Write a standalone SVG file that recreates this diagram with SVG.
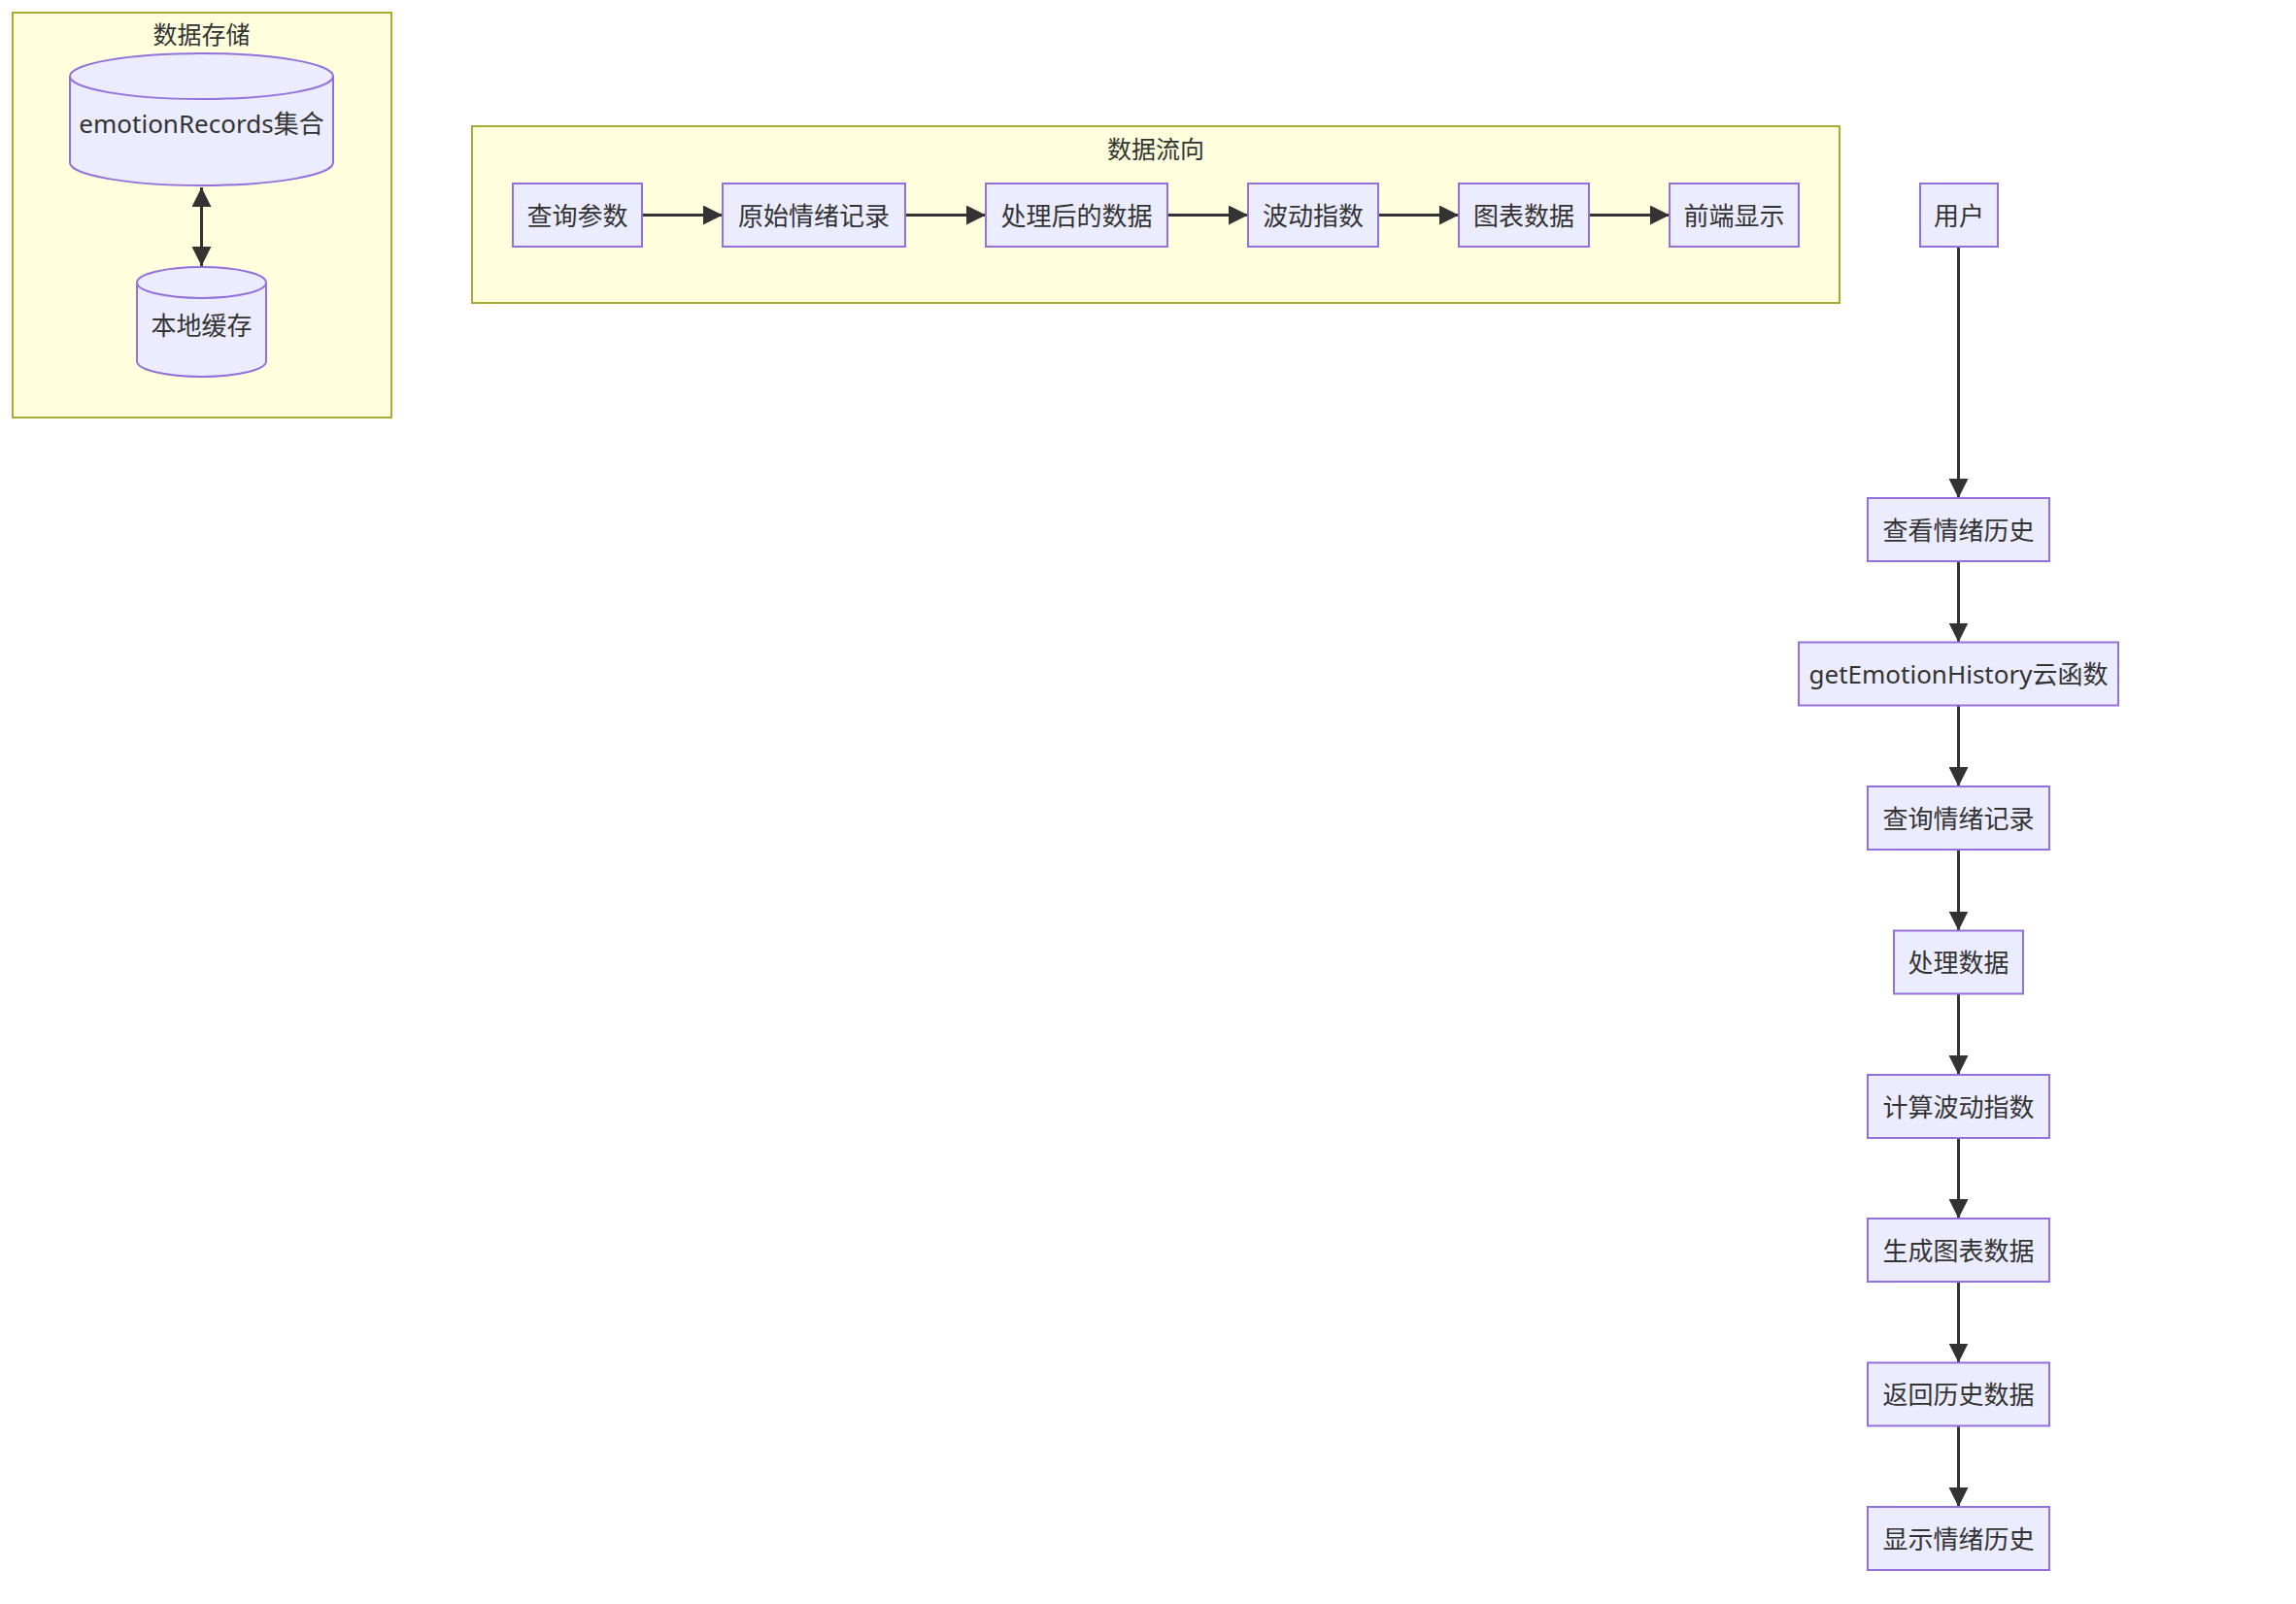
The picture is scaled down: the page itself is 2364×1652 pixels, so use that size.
<svg xmlns="http://www.w3.org/2000/svg" width="2364" height="1652" viewBox="0 0 2364 1652">
<style>
  .cluster { fill: #ffffde; stroke: #aaaa33; stroke-width: 2; }
  .node { fill: #ECECFF; stroke: #9370DB; stroke-width: 2; }
  .label { font-family: "Noto Sans", "Noto Sans CJK SC", sans-serif; font-size: 26px; fill: #333333; text-anchor: middle; dominant-baseline: central; }
  .title { font-family: "Noto Sans", "Noto Sans CJK SC", sans-serif; font-size: 25px; fill: #333333; text-anchor: middle; dominant-baseline: central; }
  .edge { stroke: #333333; stroke-width: 3; fill: none; }
</style>
<defs>
  <marker id="arrow" viewBox="0 0 20 20" refX="20" refY="10" markerWidth="20" markerHeight="20" markerUnits="userSpaceOnUse" orient="auto-start-reverse">
    <path d="M0,0 L20,10 L0,20 z" fill="#333333"/>
  </marker>
</defs>
<rect width="2364" height="1652" fill="#ffffff"/>

<g id="cluster-storage">
  <rect class="cluster" x="13" y="13" width="390" height="417"/>
  <text class="title" x="207.5" y="35">数据存储</text>
</g>
<g id="cluster-flow">
  <rect class="cluster" x="486" y="130" width="1408" height="182"/>
  <text class="title" x="1190" y="153">数据流向</text>
</g>

<g id="connectors">
  <line class="edge" x1="207.5" y1="193" x2="207.5" y2="274" marker-start="url(#arrow)" marker-end="url(#arrow)"/>
  <line class="edge" x1="661" y1="221.5" x2="744" y2="221.5" marker-end="url(#arrow)"/>
  <line class="edge" x1="932" y1="221.5" x2="1015" y2="221.5" marker-end="url(#arrow)"/>
  <line class="edge" x1="1202" y1="221.5" x2="1285" y2="221.5" marker-end="url(#arrow)"/>
  <line class="edge" x1="1419" y1="221.5" x2="1502" y2="221.5" marker-end="url(#arrow)"/>
  <line class="edge" x1="1636" y1="221.5" x2="1719" y2="221.5" marker-end="url(#arrow)"/>
  <line class="edge" x1="2016.5" y1="254" x2="2016.5" y2="513" marker-end="url(#arrow)"/>
  <line class="edge" x1="2016.5" y1="578" x2="2016.5" y2="661.5" marker-end="url(#arrow)"/>
  <line class="edge" x1="2016.5" y1="726.5" x2="2016.5" y2="810" marker-end="url(#arrow)"/>
  <line class="edge" x1="2016.5" y1="875" x2="2016.5" y2="958.5" marker-end="url(#arrow)"/>
  <line class="edge" x1="2016.5" y1="1023.5" x2="2016.5" y2="1107" marker-end="url(#arrow)"/>
  <line class="edge" x1="2016.5" y1="1172" x2="2016.5" y2="1255" marker-end="url(#arrow)"/>
  <line class="edge" x1="2016.5" y1="1320" x2="2016.5" y2="1403.5" marker-end="url(#arrow)"/>
  <line class="edge" x1="2016.5" y1="1468.5" x2="2016.5" y2="1552" marker-end="url(#arrow)"/>
</g>

<g id="node-emotionRecords">
  <path class="node" d="M72,78.5 A135.5,23.5 0 0,0 343,78.5 A135.5,23.5 0 0,0 72,78.5 L72,167.5 A135.5,23.5 0 0,0 343,167.5 L343,78.5"/>
  <text class="label" x="207.5" y="127">emotionRecords集合</text>
</g>
<g id="node-localCache">
  <path class="node" d="M141,291 A66.5,16 0 0,0 274,291 A66.5,16 0 0,0 141,291 L141,372 A66.5,16 0 0,0 274,372 L274,291"/>
  <text class="label" x="207.5" y="335">本地缓存</text>
</g>

<g id="node-queryParams">
  <rect class="node" x="528" y="189" width="133" height="65"/>
  <text class="label" x="594.5" y="221.5">查询参数</text>
</g>
<g id="node-rawRecords">
  <rect class="node" x="744" y="189" width="188" height="65"/>
  <text class="label" x="838" y="221.5">原始情绪记录</text>
</g>
<g id="node-processed">
  <rect class="node" x="1015" y="189" width="187" height="65"/>
  <text class="label" x="1108.5" y="221.5">处理后的数据</text>
</g>
<g id="node-volatility">
  <rect class="node" x="1285" y="189" width="134" height="65"/>
  <text class="label" x="1352" y="221.5">波动指数</text>
</g>
<g id="node-chartData">
  <rect class="node" x="1502" y="189" width="134" height="65"/>
  <text class="label" x="1569" y="221.5">图表数据</text>
</g>
<g id="node-frontend">
  <rect class="node" x="1719" y="189" width="133" height="65"/>
  <text class="label" x="1785.5" y="221.5">前端显示</text>
</g>

<g id="node-user">
  <rect class="node" x="1977" y="189" width="80" height="65"/>
  <text class="label" x="2017" y="221.5">用户</text>
</g>
<g id="node-viewHistory">
  <rect class="node" x="1923" y="513" width="187" height="65"/>
  <text class="label" x="2016.5" y="545.5">查看情绪历史</text>
</g>
<g id="node-cloudFn">
  <rect class="node" x="1852" y="661.5" width="329" height="65"/>
  <text class="label" x="2016.5" y="694">getEmotionHistory云函数</text>
</g>
<g id="node-queryRecords">
  <rect class="node" x="1923" y="810" width="187" height="65"/>
  <text class="label" x="2016.5" y="842.5">查询情绪记录</text>
</g>
<g id="node-processData">
  <rect class="node" x="1950" y="958.5" width="133" height="65"/>
  <text class="label" x="2016.5" y="991">处理数据</text>
</g>
<g id="node-calcVolatility">
  <rect class="node" x="1923" y="1107" width="187" height="65"/>
  <text class="label" x="2016.5" y="1139.5">计算波动指数</text>
</g>
<g id="node-genChart">
  <rect class="node" x="1923" y="1255" width="187" height="65"/>
  <text class="label" x="2016.5" y="1287.5">生成图表数据</text>
</g>
<g id="node-returnHistory">
  <rect class="node" x="1923" y="1403.5" width="187" height="65"/>
  <text class="label" x="2016.5" y="1436">返回历史数据</text>
</g>
<g id="node-showHistory">
  <rect class="node" x="1923" y="1552" width="187" height="65"/>
  <text class="label" x="2016.5" y="1584.5">显示情绪历史</text>
</g>
</svg>
